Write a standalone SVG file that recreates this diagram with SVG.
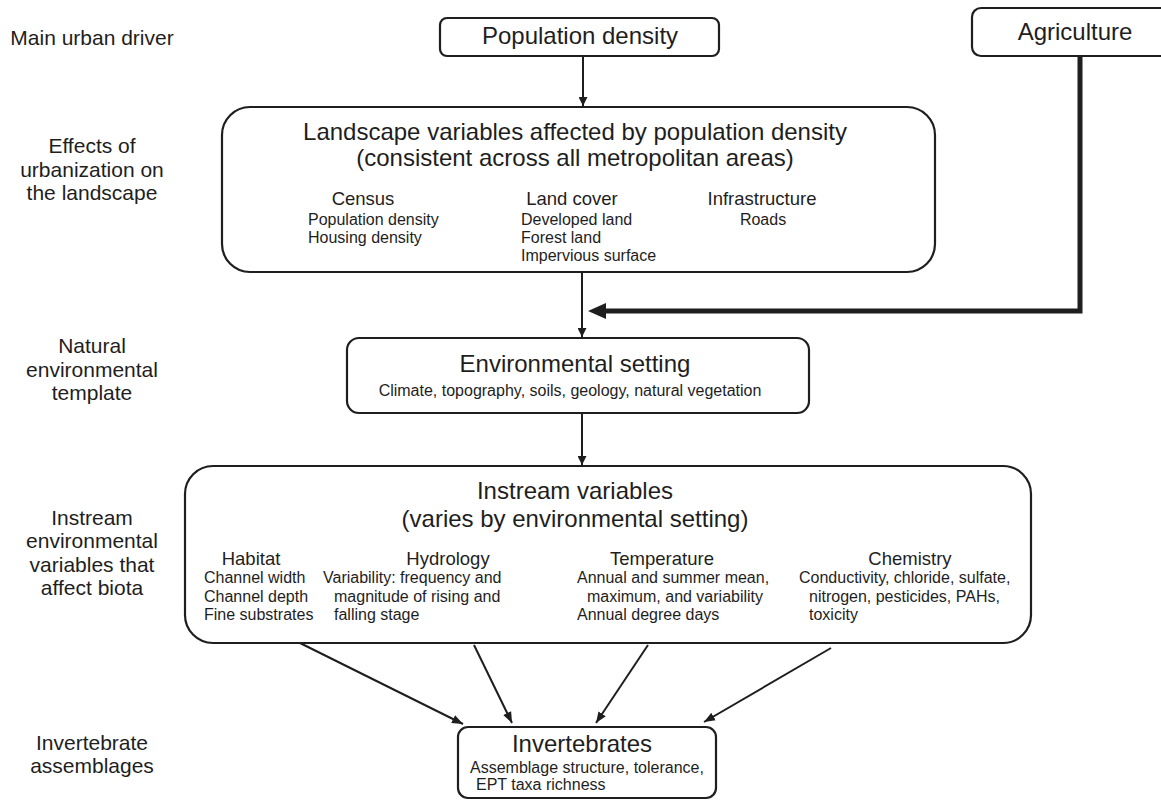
<svg xmlns="http://www.w3.org/2000/svg" width="1161" height="800" viewBox="0 0 1161 800">
<style>
text{font-family:"Liberation Sans",Arial,sans-serif;fill:#1e1e1e}
.lab{font-size:21px;text-anchor:middle}
.t{font-size:24px;text-anchor:middle}
.h{font-size:18.5px;text-anchor:middle}
.s{font-size:16px}
.c{text-anchor:middle}
.box{fill:#fff;stroke:#1e1e1e;stroke-width:2.2}
.ln{fill:none;stroke:#1e1e1e;stroke-width:2}
</style>
<defs>
<marker id="ah" viewBox="0 0 10 10" refX="10" refY="5" markerWidth="9" markerHeight="9" markerUnits="userSpaceOnUse" orient="auto">
<path d="M0,0 L10,5 L0,10 z" fill="#1e1e1e"/>
</marker>
<marker id="ah2" viewBox="0 0 10 10" refX="10" refY="5" markerWidth="11" markerHeight="11" markerUnits="userSpaceOnUse" orient="auto">
<path d="M0,1 L10,5 L0,9 z" fill="#1e1e1e"/>
</marker>
</defs>
<rect width="1161" height="800" fill="#fff"/>

<g id="row-labels">
<text class="lab" x="92" y="45">Main urban driver</text>
<text class="lab" x="92" y="153">Effects of</text>
<text class="lab" x="92" y="177">urbanization on</text>
<text class="lab" x="92" y="200">the landscape</text>
<text class="lab" x="92" y="353">Natural</text>
<text class="lab" x="92" y="377">environmental</text>
<text class="lab" x="92" y="400">template</text>
<text class="lab" x="92" y="525">Instream</text>
<text class="lab" x="92" y="548">environmental</text>
<text class="lab" x="92" y="572">variables that</text>
<text class="lab" x="92" y="595">affect biota</text>
<text class="lab" x="92" y="750">Invertebrate</text>
<text class="lab" x="92" y="773">assemblages</text>
</g>

<g id="connectors">
<line class="ln" x1="583" y1="56" x2="583" y2="106" marker-end="url(#ah)"/>
<line class="ln" x1="582" y1="272" x2="582" y2="337" marker-end="url(#ah)"/>
<line class="ln" x1="582" y1="413" x2="582" y2="465" marker-end="url(#ah)"/>
<path d="M1080,56 V311 H604" fill="none" stroke="#1e1e1e" stroke-width="5"/>
<polygon points="588,311 606,303 606,319" fill="#1e1e1e"/>
<line class="ln" x1="300" y1="643" x2="463" y2="724" marker-end="url(#ah2)"/>
<line class="ln" x1="474" y1="645" x2="512" y2="723" marker-end="url(#ah2)"/>
<line class="ln" x1="648" y1="645" x2="596" y2="723" marker-end="url(#ah2)"/>
<line class="ln" x1="831" y1="648" x2="704" y2="722" marker-end="url(#ah2)"/>
</g>

<g id="population-density">
<rect class="box" x="440" y="18" width="279" height="38" rx="7"/>
<text class="t" x="580" y="44">Population density</text>
</g>

<g id="agriculture">
<rect class="box" x="972" y="8" width="212" height="48" rx="9"/>
<text class="t" x="1075" y="40">Agriculture</text>
</g>

<g id="landscape">
<rect class="box" x="222" y="107" width="713" height="165" rx="28"/>
<text class="t" x="575" y="140">Landscape variables affected by population density</text>
<text class="t" x="575" y="166">(consistent across all metropolitan areas)</text>
<text class="h" x="363" y="205">Census</text>
<text class="s" x="308" y="225">Population density</text>
<text class="s" x="308" y="243">Housing density</text>
<text class="h" x="572" y="205">Land cover</text>
<text class="s" x="521" y="225">Developed land</text>
<text class="s" x="521" y="243">Forest land</text>
<text class="s" x="521" y="261">Impervious surface</text>
<text class="h" x="762" y="205">Infrastructure</text>
<text class="s c" x="763" y="225">Roads</text>
</g>

<g id="environmental-setting">
<rect class="box" x="347" y="338" width="462" height="75" rx="12"/>
<text class="t" x="575" y="372">Environmental setting</text>
<text class="s c" x="570" y="396">Climate, topography, soils, geology, natural vegetation</text>
</g>

<g id="instream">
<rect class="box" x="185" y="466" width="846" height="177" rx="28"/>
<text class="t" x="575" y="499">Instream variables</text>
<text class="t" x="575" y="527">(varies by environmental setting)</text>
<text class="h" x="251" y="565">Habitat</text>
<text class="s" x="204" y="583">Channel width</text>
<text class="s" x="204" y="602">Channel depth</text>
<text class="s" x="204" y="620">Fine substrates</text>
<text class="h" x="448" y="565">Hydrology</text>
<text class="s" x="323" y="583">Variability: frequency and</text>
<text class="s" x="334" y="602">magnitude of rising and</text>
<text class="s" x="334" y="620">falling stage</text>
<text class="h" x="662" y="565">Temperature</text>
<text class="s" x="577" y="583">Annual and summer mean,</text>
<text class="s" x="587" y="602">maximum, and variability</text>
<text class="s" x="577" y="620">Annual degree days</text>
<text class="h" x="910" y="565">Chemistry</text>
<text class="s" x="799" y="583">Conductivity, chloride, sulfate,</text>
<text class="s" x="809" y="602">nitrogen, pesticides, PAHs,</text>
<text class="s" x="809" y="620">toxicity</text>
</g>

<g id="invertebrates">
<rect class="box" x="458" y="727" width="258" height="71" rx="10"/>
<text class="t" x="582" y="752">Invertebrates</text>
<text class="s" x="470" y="773">Assemblage structure, tolerance,</text>
<text class="s" x="476" y="790">EPT taxa richness</text>
</g>
</svg>
